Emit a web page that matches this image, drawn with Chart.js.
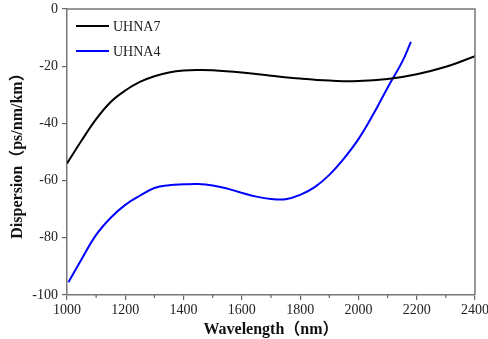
<!DOCTYPE html>
<html>
<head>
  <title>Dispersion</title>
  <script src="https://cdn.jsdelivr.net/npm/chart.js"></script>
  <style>
    html, body { margin: 0; padding: 0; background: #fff; }
    #wrap { width: 488px; height: 339px; position: relative; }
  </style>
</head>
<body>
  <div id="wrap"><canvas id="dispChart"></canvas></div>

  <script>
    // wavelength (nm) and dispersion (ps/nm/km)
    const uhna7Wave = [1000, 1050, 1100, 1150, 1200, 1250, 1300, 1350, 1400, 1450, 1500, 1600, 1700, 1800, 1900, 2000, 2100, 2200, 2300, 2400];
    const uhna7Disp = [-54, -46, -38.5, -32.5, -28.5, -25.5, -23.5, -22.2, -21.5, -21.3, -21.4, -22.2, -23.3, -24.3, -25, -25.2, -24.5, -22.8, -20.2, -16.5];

    const uhna4Wave = [1005, 1050, 1100, 1150, 1200, 1250, 1300, 1350, 1400, 1450, 1500, 1550, 1600, 1650, 1700, 1750, 1800, 1850, 1900, 1950, 2000, 2050, 2100, 2150, 2180];
    const uhna4Disp = [-95.5, -87.5, -79, -73, -68.5, -65.3, -62.6, -61.6, -61.3, -61.2, -61.7, -62.8, -64.3, -65.6, -66.4, -66.5, -65, -62.3, -58, -52.3, -45.5, -37, -27.5, -18.5, -11.5];

    const seriesNames = ['UHNA7', 'UHNA4'];
    const seriesColors = ['#000000', '#0000ff'];

    const xMin = 1000, xMax = 2400, xStep = 200;
    const yMin = -100, yMax = 0, yStep = 20;

    const toPoints = (xs, ys) => xs.map((x, i) => ({ x: x, y: ys[i] }));

    // box round the plot, minor x ticks and the legend inside the plot
    const frame = {
      id: 'frame',
      afterDraw(chart) {
        const { ctx, chartArea: a, scales } = chart;
        ctx.save();
        ctx.strokeStyle = '#777';
        ctx.lineWidth = 1.5;
        ctx.beginPath();
        ctx.moveTo(a.left, a.top);
        ctx.lineTo(a.right, a.top);
        ctx.lineTo(a.right, a.bottom);
        ctx.stroke();

        // minor ticks on the x axis
        ctx.lineWidth = 1.2;
        ctx.strokeStyle = '#666';
        for (let v = xMin + xStep / 2; v < xMax; v += xStep) {
          const px = scales.x.getPixelForValue(v);
          ctx.beginPath();
          ctx.moveTo(px, a.bottom);
          ctx.lineTo(px, a.bottom + 3);
          ctx.stroke();
        }

        // legend
        ctx.font = '14px "Liberation Serif", serif';
        ctx.textBaseline = 'middle';
        ctx.fillStyle = '#222';
        chart.data.datasets.forEach((ds, i) => {
          const y = a.top + 17 + i * 25;
          ctx.strokeStyle = ds.borderColor;
          ctx.lineWidth = 2;
          ctx.beginPath();
          ctx.moveTo(a.left + 9, y);
          ctx.lineTo(a.left + 42, y);
          ctx.stroke();
          ctx.fillText(ds.label, a.left + 46, y + 1);
        });
        ctx.restore();
      }
    };

    const tickFont = { family: '"Liberation Serif", serif', size: 14 };
    const titleFont = { family: '"Liberation Serif", "Noto Sans CJK SC", serif', size: 16, weight: 'bold' };

    new Chart(document.getElementById('dispChart'), {
      type: 'line',
      data: {
        datasets: [
          {
            label: seriesNames[0],
            data: toPoints(uhna7Wave, uhna7Disp),
            borderColor: seriesColors[0],
            borderWidth: 2,
            pointRadius: 0,
            tension: 0.4
          },
          {
            label: seriesNames[1],
            data: toPoints(uhna4Wave, uhna4Disp),
            borderColor: seriesColors[1],
            borderWidth: 2,
            pointRadius: 0,
            tension: 0.4
          }
        ]
      },
      options: {
        responsive: true,
        maintainAspectRatio: false,
        animation: false,
        layout: { padding: { top: 9, right: 13, left: 0, bottom: 0 } },
        plugins: {
          legend: { display: false },
          tooltip: { enabled: false }
        },
        scales: {
          x: {
            type: 'linear',
            min: xMin,
            max: xMax,
            afterFit: s => { s.height = 44; s.paddingRight = 0; s.paddingLeft = 0; },
            ticks: { stepSize: xStep, color: '#222', font: tickFont, padding: 2, maxRotation: 0,
                     callback: v => String(v) },
            grid: { drawOnChartArea: false, drawTicks: true, tickLength: 5, color: '#666', lineWidth: 1.2 },
            border: { color: '#777', width: 1.5 },
            title: { display: true, text: 'Wavelength（nm）', color: '#111', font: titleFont, padding: { top: 0, bottom: 0 } }
          },
          y: {
            min: yMin,
            max: yMax,
            afterFit: s => { s.width = 67; s.paddingTop = 0; s.paddingBottom = 0; },
            ticks: { stepSize: yStep, color: '#222', font: tickFont, padding: 4 },
            grid: { drawOnChartArea: false, drawTicks: true, tickLength: 5, color: '#666', lineWidth: 1.2 },
            border: { color: '#777', width: 1.5 },
            title: { display: true, text: 'Dispersion（ps/nm/km）', color: '#111', font: titleFont, padding: { top: 8, bottom: 0 } }
          }
        }
      },
      plugins: [frame]
    });
  </script>
</body>
</html>
